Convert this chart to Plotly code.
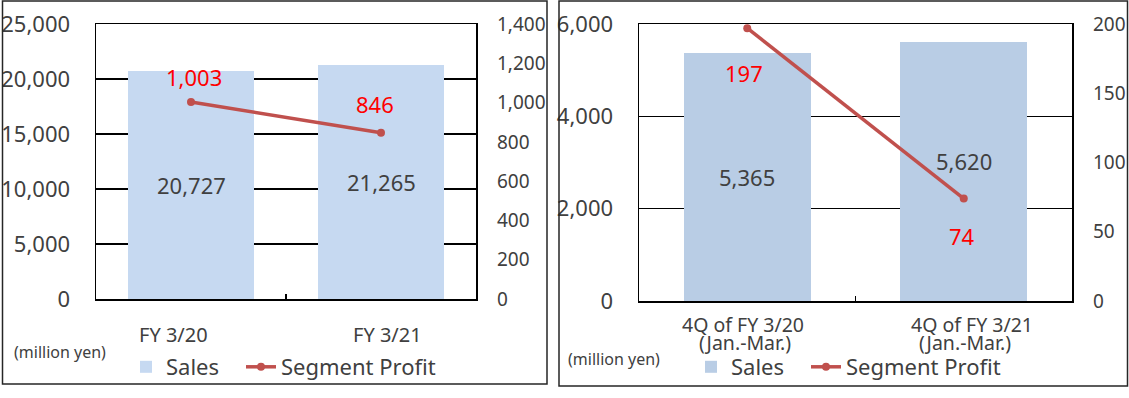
import plotly.graph_objects as go

# ---------------- data ----------------
fy_categories = ["FY 3/20", "FY 3/21"]
fy_sales = [20727, 21265]
fy_profit = [1003, 846]

q_categories = ["4Q of FY 3/20", "4Q of FY 3/21"]
q_sublabels = ["(Jan.-Mar.)", "(Jan.-Mar.)"]
q_sales = [5365, 5620]
q_profit = [197, 74]

sales_name = "Sales"
profit_name = "Segment Profit"
unit_label = "(million yen)"

# ---------------- styles ----------------
W, H = 1129, 398
FONT = "Noto Sans"
GRAY = "#404040"
LINE_RED = "#C0504D"
LABEL_RED = "#FF0000"


def px(x):
    return x / W


def py(y):
    return (H - y) / H


fig = go.Figure()

# left panel
fig.add_trace(go.Bar(x=fy_categories, y=fy_sales, name=sales_name, width=0.66, legendwidth=70,
                     marker=dict(color="#C6D9F1", line=dict(width=0)),
                     xaxis="x", yaxis="y", legend="legend"))
fig.add_trace(go.Scatter(x=fy_categories, y=fy_profit, name=profit_name, mode="lines+markers",
                         line=dict(color=LINE_RED, width=3.5), marker=dict(size=8, color=LINE_RED),
                         xaxis="x", yaxis="y2", legend="legend"))
# right panel
fig.add_trace(go.Bar(x=q_categories, y=q_sales, name=sales_name, width=0.585, legendwidth=70,
                     marker=dict(color="#B9CDE5", line=dict(width=0)),
                     xaxis="x2", yaxis="y3", legend="legend2"))
fig.add_trace(go.Scatter(x=q_categories, y=q_profit, name=profit_name, mode="lines+markers",
                         line=dict(color=LINE_RED, width=3.5), marker=dict(size=8, color=LINE_RED),
                         xaxis="x2", yaxis="y4", legend="legend2"))

annotations = []

# sales labels (centre of bars)
for cats, vals, xref, yref, shifts in [(fy_categories, fy_sales, "x", "y", [0, 0]),
                                       (q_categories, q_sales, "x2", "y3", [0, 10])]:
    for c, v, s in zip(cats, vals, shifts):
        annotations.append(dict(x=c, y=v / 2, xref=xref, yref=yref,
                                text=f"{v:,}", showarrow=False, yshift=s,
                                font=dict(family=FONT, size=22, color=GRAY)))

# profit labels
for cats, vals, xref, yref, yshifts, xshifts in [
        (fy_categories, fy_profit, "x", "y2", [25, 29], [3, -6]),
        (q_categories, q_profit, "x2", "y4", [-45, -37], [-3, -2])]:
    for c, v, ys, xs in zip(cats, vals, yshifts, xshifts):
        annotations.append(dict(x=c, y=v, xref=xref, yref=yref, text=f"{v:,}", showarrow=False,
                                yshift=ys, xshift=xs,
                                font=dict(family=FONT, size=22, color=LABEL_RED)))

# category labels
for c, xs in zip(fy_categories, [-18, 6]):
    annotations.append(dict(x=c, y=py(334.5), xref="x", yref="paper", text=c, showarrow=False,
                            xshift=xs, xanchor="center", yanchor="middle",
                            font=dict(family=FONT, size=20, color=GRAY)))
for c, sub, xs1, xs2 in zip(q_categories, q_sublabels, [-4, 8], [-2, 1]):
    annotations.append(dict(x=c, y=py(324.5), xref="x2", yref="paper", text=c, showarrow=False,
                            xshift=xs1, xanchor="center", yanchor="middle",
                            font=dict(family=FONT, size=19.5, color=GRAY)))
    annotations.append(dict(x=c, y=py(342), xref="x2", yref="paper", text=sub, showarrow=False,
                            xshift=xs2, xanchor="center", yanchor="middle",
                            font=dict(family=FONT, size=19.5, color=GRAY)))

# unit labels
annotations.append(dict(x=px(60), y=py(352), xref="paper", yref="paper", text=unit_label,
                        xanchor="center", yanchor="middle",
                        showarrow=False, font=dict(family=FONT, size=16, color=GRAY)))
annotations.append(dict(x=px(614), y=py(359), xref="paper", yref="paper", text=unit_label,
                        xanchor="center", yanchor="middle",
                        showarrow=False, font=dict(family=FONT, size=16, color=GRAY)))

shapes = [
    dict(type="rect", xref="paper", yref="paper", x0=px(2.5), x1=px(547), y0=py(384), y1=py(1),
         line=dict(color="#262626", width=1.5)),
    dict(type="rect", xref="paper", yref="paper", x0=px(559), x1=px(1127.5), y0=py(386), y1=py(1),
         line=dict(color="#262626", width=1.5)),
]

xcommon = dict(showline=True, mirror=True, linecolor="black", linewidth=1.5, automargin=False,
               ticks="inside", tickson="boundaries", ticklen=5, tickcolor="black", tickwidth=1.5,
               showticklabels=False, showgrid=False, fixedrange=True)
yleft = dict(showline=True, mirror=True, linecolor="black", linewidth=1.5, ticks="",
             showgrid=True, gridcolor="black", gridwidth=1.3, tickformat=",", automargin=False,
             ticklabelstandoff=20, zeroline=False, fixedrange=True,
             tickfont=dict(family=FONT, size=22, color=GRAY))
yright = dict(showline=False, showgrid=False, ticks="", tickformat=",", side="right",
              ticklabelstandoff=20, zeroline=False, fixedrange=True, automargin=False,
              tickfont=dict(family=FONT, size=19, color=GRAY))

legend_common = dict(orientation="h", xanchor="left", yanchor="middle", bgcolor="rgba(0,0,0,0)",
                     font=dict(family=FONT, size=22, color=GRAY), itemclick=False,
                     itemdoubleclick=False)

fig.update_layout(
    width=W, height=H,
    margin=dict(l=0, r=0, t=0, b=0, autoexpand=False),
    paper_bgcolor="white", plot_bgcolor="white",
    bargap=0, hovermode=False,
    xaxis=dict(domain=[px(96), px(476)], anchor="y", **xcommon),
    yaxis=dict(domain=[py(299), py(24)], anchor="x", range=[0, 25000], dtick=5000, **yleft),
    yaxis2=dict(overlaying="y", anchor="x", range=[0, 1400], dtick=200, **yright),
    xaxis2=dict(domain=[px(639), px(1072)], anchor="y3", **xcommon),
    yaxis3=dict(domain=[py(301), py(24)], anchor="x2", range=[0, 6000], dtick=2000, **yleft),
    yaxis4=dict(overlaying="y3", anchor="x2", range=[0, 200], dtick=50, **yright),
    legend=dict(x=px(126), y=py(367), **legend_common),
    legend2=dict(x=px(691), y=py(367), **legend_common),
    annotations=annotations,
    shapes=shapes,
)

fig.write_html("out.html", config={"displayModeBar": False, "staticPlot": True},
               post_script="document.body.style.margin='0';document.body.style.overflow='hidden';")
